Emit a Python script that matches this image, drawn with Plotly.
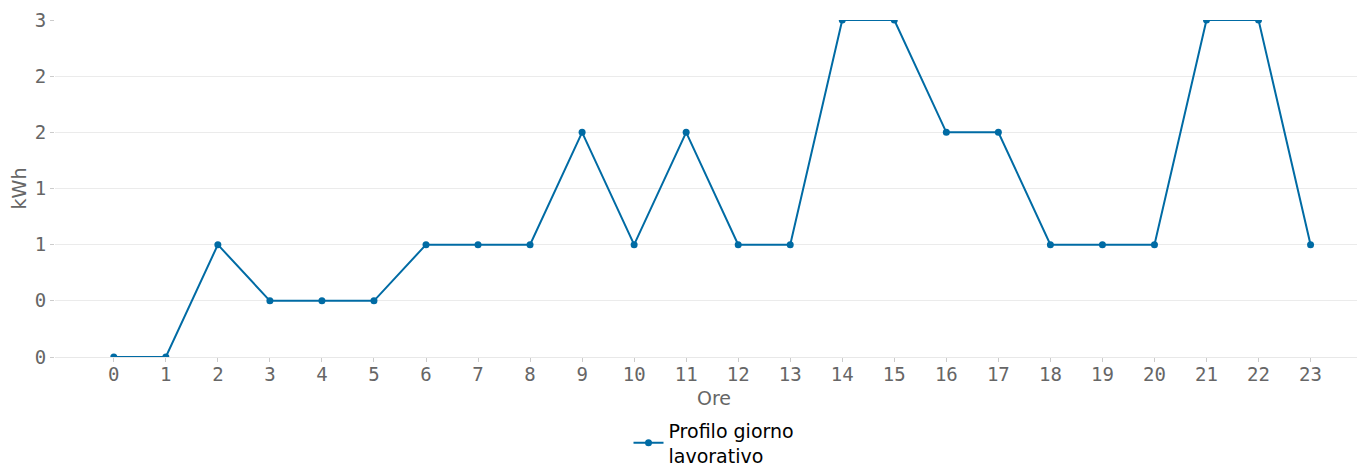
import plotly.graph_objects as go

ore = list(range(24))
kwh = [0, 0, 1, 0.5, 0.5, 0.5, 1, 1, 1, 2, 1, 2, 1, 1, 3, 3, 2, 2, 1, 1, 1, 3, 3, 1]
serie_nome = "Profilo giorno<br>lavorativo"
y_tick_vals = [0, 0.5, 1, 1.5, 2, 2.5, 3]
y_tick_text = ["0", "0", "1", "1", "2", "2", "3"]

fig = go.Figure()
fig.add_trace(go.Scatter(
    x=ore, y=kwh, mode="lines+markers", name=serie_nome,
    line=dict(color="#006ba4", width=2),
    marker=dict(color="#006ba4", size=7),
    showlegend=True,
))

fig.update_layout(
    width=1365, height=468,
    paper_bgcolor="white", plot_bgcolor="white",
    margin=dict(l=47, r=0, t=12, b=119, autoexpand=False),
    font=dict(family="DejaVu Sans", color="#666666"),
    showlegend=True,
    legend=dict(orientation="h", x=0.5, xanchor="center", y=-0.162, yanchor="top",
                font=dict(family="DejaVu Sans", size=19, color="black")),
    xaxis=dict(
        title=dict(text="Ore", font=dict(size=19, color="#666666"), standoff=7),
        tickmode="array", tickvals=ore, ticktext=[str(o) for o in ore],
        range=[-1.13, 24.2], automargin=False,
        tickfont=dict(family="DejaVu Sans Mono", size=19, color="#666666"),
        showgrid=False, zeroline=False,
        showline=True, linecolor="#e8e8e8", linewidth=1,
        ticks="outside", ticklen=4, tickcolor="#cccccc",
        ticklabelstandoff=-4,
    ),
    yaxis=dict(
        title=dict(text="kWh", font=dict(size=19, color="#666666"), standoff=6),
        tickmode="array", tickvals=y_tick_vals, ticktext=y_tick_text,
        range=[0, 3], automargin=False,
        tickfont=dict(family="DejaVu Sans Mono", size=19, color="#666666"),
        showgrid=True, gridcolor="#ebebeb", gridwidth=1, zeroline=False,
        ticks="outside", ticklen=4, tickcolor="#cccccc",
    ),
)

fig.write_html("out.html")
